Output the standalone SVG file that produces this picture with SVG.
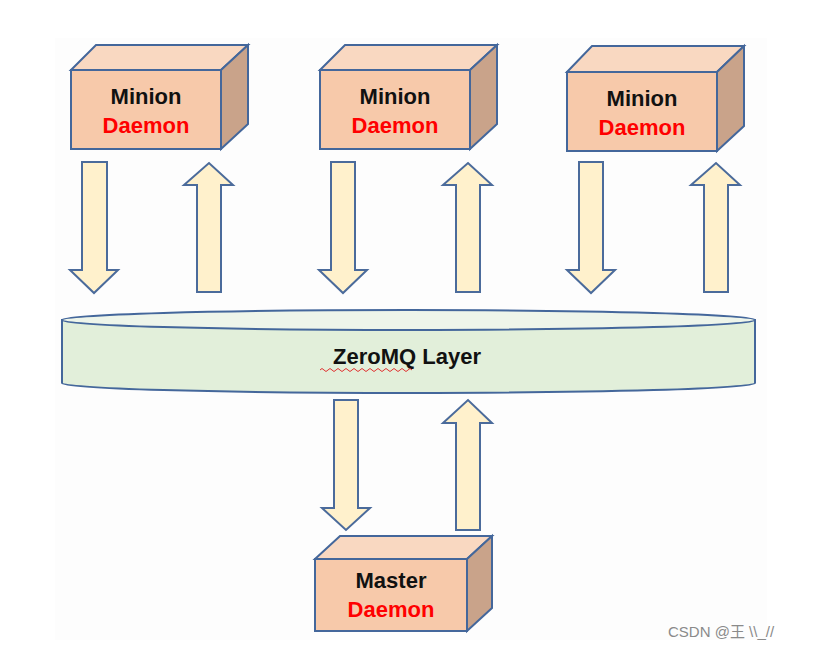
<svg xmlns="http://www.w3.org/2000/svg" width="820" height="651" viewBox="0 0 820 651">
<style>
.f{fill:#f7c9aa;stroke:#44679b;stroke-width:2}
.t{fill:#f9d8c1;stroke:#44679b;stroke-width:2}
.s{fill:#c9a38a;stroke:#44679b;stroke-width:2}
.a{fill:#fff1cc;stroke:#4b6b9b;stroke-width:2;stroke-linejoin:miter}
.l1{font-family:"Liberation Sans",Arial,sans-serif;font-size:22px;font-weight:bold;fill:#111;text-anchor:middle}
.l2{font-family:"Liberation Sans",Arial,sans-serif;font-size:22px;font-weight:bold;fill:#ff0000;text-anchor:middle}
</style>
<rect width="820" height="651" fill="#fff"/>
<rect x="55" y="38" width="712" height="602" fill="#fdfdfd"/>
<g id="minion1">
<polygon class="t" points="71,70 96,45 248,45 221,70"/>
<polygon class="s" points="221,70 248,45 248,124 221,149"/>
<rect class="f" x="71" y="70" width="150" height="79"/>
<text class="l1" x="146" y="104">Minion</text><text class="l2" x="146" y="133">Daemon</text>
</g>
<g id="minion2">
<polygon class="t" points="320,70 345,45 497,45 470,70"/>
<polygon class="s" points="470,70 497,45 497,124 470,149"/>
<rect class="f" x="320" y="70" width="150" height="79"/>
<text class="l1" x="395" y="104">Minion</text><text class="l2" x="395" y="133">Daemon</text>
</g>
<g id="minion3">
<polygon class="t" points="567,72 592,46 744,46 717,72"/>
<polygon class="s" points="717,72 744,46 744,126 717,151"/>
<rect class="f" x="567" y="72" width="150" height="79"/>
<text class="l1" x="642" y="106">Minion</text><text class="l2" x="642" y="135">Daemon</text>
</g>
<g id="master">
<polygon class="t" points="315,559 340,536 492,536 467,559"/>
<polygon class="s" points="467,559 492,536 492,608 467,631"/>
<rect class="f" x="315" y="559" width="152" height="72"/>
<text class="l1" x="391" y="588">Master</text><text class="l2" x="391" y="617">Daemon</text>
</g>
<g id="zeromq">
<path d="M62,320 L62,383 A346.5,10 0 0 0 755,383 L755,320 Z" fill="#e2efda" stroke="#44679b" stroke-width="2"/>
<ellipse cx="408.5" cy="320" rx="346.5" ry="10" fill="#eef5ea" stroke="#44679b" stroke-width="2"/>
<text x="407" y="364" font-family="Liberation Sans,Arial,sans-serif" font-size="22" font-weight="bold" text-anchor="middle" fill="#111">ZeroMQ Layer</text>
<path d="M320,370 q2,-3 4,0 t4,0 t4,0 t4,0 t4,0 t4,0 t4,0 t4,0 t4,0 t4,0 t4,0 t4,0 t4,0 t4,0 t4,0 t4,0 t4,0 t4,0 t4,0 t4,0 t4,0 t4,0 t4,0" fill="none" stroke="#e03030" stroke-width="1"/>
</g>
<g id="connectors">
<polygon class="a" points="82,162 107,162 107,270 118,270 94,293 70,270 82,270"/>
<polygon class="a" points="197,292 221,292 221,185 233,185 209,163 184,185 197,185"/>
<polygon class="a" points="331,162 355,162 355,270 367,270 343,293 319,270 331,270"/>
<polygon class="a" points="456,292 480,292 480,185 492,185 468,163 443,185 456,185"/>
<polygon class="a" points="579,162 603,162 603,270 615,270 591,293 567,270 579,270"/>
<polygon class="a" points="704,292 728,292 728,185 740,185 716,163 691,185 704,185"/>
<polygon class="a" points="334,400 358,400 358,508 370,508 346,530 322,508 334,508"/>
<polygon class="a" points="456,530 480,530 480,423 492,423 468,400 443,423 456,423"/>
</g>
<text x="668" y="637" font-family="Liberation Sans,'Noto Sans CJK SC',sans-serif" font-size="15" fill="#8a8a8a">CSDN @王 \\_//</text>
</svg>
